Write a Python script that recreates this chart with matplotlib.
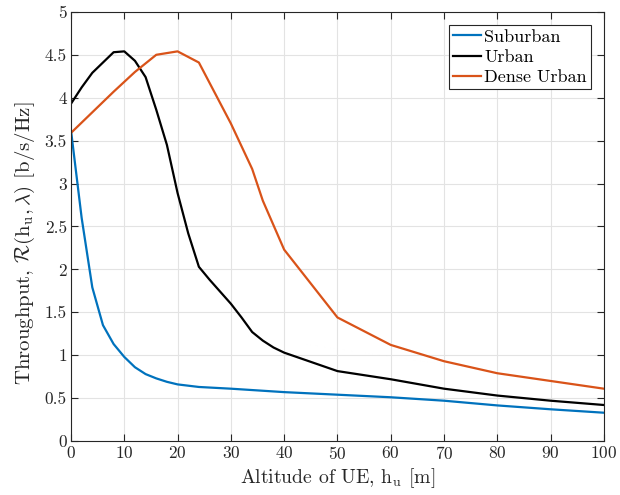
import numpy as np
import matplotlib.pyplot as plt

plt.rcParams['font.family'] = 'serif'
plt.rcParams['font.serif'] = ['cmr10', 'DejaVu Serif']
plt.rcParams['mathtext.fontset'] = 'cm'
plt.rcParams['axes.formatter.use_mathtext'] = True

# throughput vs UE altitude, three environments
h_sub = [0, 2, 4, 6, 8, 10, 12, 14, 16, 18, 20, 24, 30, 40, 50, 60, 70, 80, 90, 100]
r_sub = [3.62, 2.6, 1.79, 1.35, 1.13, 0.98, 0.86, 0.78, 0.73, 0.69, 0.66, 0.63, 0.61, 0.57, 0.54, 0.51, 0.47, 0.415, 0.37, 0.33]

h_urb = [0, 2, 4, 6, 8, 10, 12, 14, 16, 18, 20, 22, 24, 26, 28, 30, 32, 34, 36, 38, 40, 50, 60, 70, 80, 90, 100]
r_urb = [3.93, 4.12, 4.29, 4.41, 4.53, 4.54, 4.43, 4.24, 3.86, 3.45, 2.89, 2.42, 2.03, 1.88, 1.74, 1.60, 1.44, 1.27, 1.17, 1.09, 1.03, 0.815, 0.72, 0.61, 0.53, 0.47, 0.42]

h_den = [0, 4, 8, 12, 16, 20, 24, 30, 34, 36, 40, 50, 60, 70, 80, 90, 100]
r_den = [3.59, 3.83, 4.07, 4.30, 4.50, 4.54, 4.41, 3.70, 3.17, 2.80, 2.23, 1.44, 1.12, 0.93, 0.79, 0.70, 0.61]

fig = plt.figure(figsize=(6.2, 4.95), dpi=100)
ax = fig.add_axes([0.1145, 0.109, 0.8595, 0.867])

ax.plot(h_sub, r_sub, color='#0072BD', lw=1.6, label='Suburban')
ax.plot(h_urb, r_urb, color='black', lw=1.6, label='Urban')
ax.plot(h_den, r_den, color='#D95319', lw=1.6, label='Dense Urban')

ax.set_xlim(0, 100)
ax.set_ylim(0, 5)
ax.set_xticks(np.arange(0, 101, 10))
ax.set_yticks(np.arange(0, 5.01, 0.5))
ax.set_yticklabels(['0', '0.5', '1', '1.5', '2', '2.5', '3', '3.5', '4', '4.5', '5'])
ax.grid(True, color='#E3E3E3', lw=0.8)
ax.set_axisbelow(True)
ax.tick_params(direction='in', top=True, right=True, labelsize=12.5, colors='#262626',
               length=5, pad=3)
for s in ax.spines.values():
    s.set_color('#262626')
    s.set_linewidth(0.8)

ax.set_xlabel(r'Altitude of UE, $\mathrm{h_u}$ [m]', fontsize=14.2, color='#262626', labelpad=3)
ax.set_ylabel(r'Throughput, $\mathcal{R}(\mathrm{h_u},\lambda)$ [b/s/Hz]', fontsize=15,
              color='#262626')
ax.yaxis.set_label_coords(-0.063, 0.462)

leg = ax.legend(loc='upper right', fontsize=13, handlelength=1.55, handletextpad=0.15,
                borderpad=0.25, labelspacing=0.25, fancybox=False, framealpha=1,
                borderaxespad=0.7)
leg.get_frame().set_edgecolor('#262626')
leg.get_frame().set_linewidth(0.8)

fig.savefig('out.png', dpi=100)
